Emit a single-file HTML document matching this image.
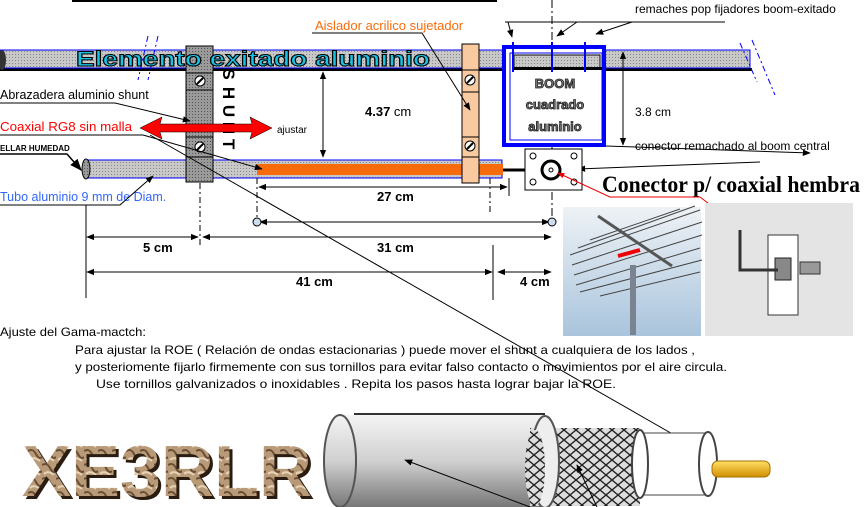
<!DOCTYPE html>
<html><head><meta charset="utf-8"><style>
html,body{margin:0;padding:0;background:#fff;width:865px;height:507px;overflow:hidden}
svg{display:block;font-family:"Liberation Sans",sans-serif}
</style></head><body>
<svg width="865" height="507" viewBox="0 0 865 507" xmlns="http://www.w3.org/2000/svg">
<defs>
<marker id="a" viewBox="0 0 10 10" refX="9" refY="5" markerWidth="8" markerHeight="8" orient="auto-start-reverse"><path d="M0,1 L10,5 L0,9 z" fill="#000"/></marker>
<marker id="r" viewBox="0 0 10 10" refX="9" refY="5" markerWidth="7" markerHeight="7" orient="auto"><path d="M0,1 L10,5 L0,9 z" fill="#e00"/></marker>
<pattern id="dots" width="3" height="3" patternUnits="userSpaceOnUse"><rect width="3" height="3" fill="#c8c8c8"/><rect width="1" height="1" fill="#888"/></pattern>
<pattern id="dots2" width="3" height="3" patternUnits="userSpaceOnUse"><rect width="3" height="3" fill="#9a9a9a"/><rect width="1" height="1" fill="#555"/></pattern>
<pattern id="braid" width="12" height="10" patternUnits="userSpaceOnUse"><rect width="12" height="10" fill="#ddd"/><path d="M0,0 L12,10 M12,0 L0,10" stroke="#222" stroke-width="1.4"/></pattern>
<linearGradient id="jk" x1="0" y1="0" x2="0" y2="1"><stop offset="0" stop-color="#f4f4f4"/><stop offset="0.5" stop-color="#d0d0d0"/><stop offset="1" stop-color="#777"/></linearGradient>
<linearGradient id="sky" x1="0" y1="0" x2="0" y2="1"><stop offset="0" stop-color="#eef2f6"/><stop offset="1" stop-color="#a9c4dc"/></linearGradient>
<linearGradient id="gold" x1="0" y1="0" x2="0" y2="1"><stop offset="0" stop-color="#ffe066"/><stop offset="1" stop-color="#d09000"/></linearGradient>
<pattern id="rock" width="14" height="14" patternUnits="userSpaceOnUse"><rect width="14" height="14" fill="#b89a78"/><path d="M0,3 Q5,0 8,6 T14,9" stroke="#6b4f35" stroke-width="2" fill="none"/><path d="M2,12 Q6,8 12,13" stroke="#e6d2b5" stroke-width="2" fill="none"/></pattern>
</defs>

<line x1="72" y1="1" x2="497" y2="1" stroke="#000" stroke-width="2"/>

<!-- top tube -->
<rect x="0" y="68" width="752" height="3" fill="#000"/>
<rect x="0" y="50" width="750" height="18" fill="url(#dots)" stroke="#00f" stroke-width="1"/>
<ellipse cx="2" cy="60" rx="4" ry="10" fill="#333"/>
<path d="M148,36 L138,80 M158,36 L148,80" stroke="#00f" stroke-dasharray="6,3,2,3" fill="none"/>
<path d="M740,43 L757,82 M752,40 L775,95" stroke="#00f" stroke-dasharray="6,3,2,3" fill="none"/>

<!-- bottom tube -->
<rect x="86" y="160" width="416" height="18" fill="url(#dots)" stroke="#00f"/>
<ellipse cx="86" cy="169" rx="4" ry="10" fill="url(#dots2)" stroke="#000"/>
<rect x="257" y="164" width="246" height="11" fill="#f76b0b"/>
<line x1="503" y1="170" x2="548" y2="170" stroke="#000" stroke-width="3"/>

<!-- shunt block -->
<rect x="186" y="46" width="27" height="136" fill="url(#dots2)" stroke="#000"/>
<path d="M186,73H213M186,90H213M186,137H213M186,157H213" stroke="#000"/>
<circle cx="200" cy="81" r="5" fill="#fff" stroke="#000"/><line x1="197" y1="84" x2="203" y2="78" stroke="#000" stroke-width="2"/>
<circle cx="200" cy="147" r="5" fill="#fff" stroke="#000"/><line x1="197" y1="150" x2="203" y2="144" stroke="#000" stroke-width="2"/>
<text x="76" y="66" font-size="21" font-weight="bold" fill="#19c3e6" stroke="#000" stroke-width="1" textLength="354" lengthAdjust="spacingAndGlyphs">Elemento exitado aluminio</text>
<g font-size="17" font-weight="bold" text-anchor="middle" fill="#000">
<text transform="translate(229,74) rotate(90)" x="0" y="6">S</text>
<text transform="translate(229,93) rotate(90)" x="0" y="6">H</text>
<text transform="translate(229,111) rotate(90)" x="0" y="6">U</text>
<text transform="translate(229,128) rotate(90)" x="0" y="6">N</text>
<text transform="translate(229,144) rotate(90)" x="0" y="6">T</text>
</g>
<!-- red arrow -->
<path d="M140,128 L162,117 L160,124 L252,124 L250,117 L272,128 L250,139 L252,132 L160,132 L162,139 Z" fill="#f00" stroke="#000" stroke-width="0.5"/>
<text x="277" y="133" font-size="10">ajustar</text>

<!-- aislador -->
<rect x="462" y="44" width="17" height="139" fill="#f9c9a0" stroke="#000"/>
<path d="M462,70H479M462,92H479M462,137H479M462,157H479" stroke="#000"/>
<circle cx="470" cy="80" r="5" fill="#fff" stroke="#000"/><line x1="467" y1="83" x2="473" y2="77" stroke="#000" stroke-width="2"/>
<circle cx="470" cy="146" r="5" fill="#fff" stroke="#000"/><line x1="467" y1="149" x2="473" y2="143" stroke="#000" stroke-width="2"/>
<text x="315" y="30" font-size="13" fill="#f76b0b">Aislador acrilico sujetador</text>
<polyline points="312,33 422,33 470,110" fill="none" stroke="#000" marker-end="url(#a)"/>

<!-- 4.37 -->
<line x1="323" y1="72" x2="323" y2="157" stroke="#000" marker-start="url(#a)" marker-end="url(#a)"/>
<text x="365" y="116" font-size="13"><tspan font-weight="bold">4.37</tspan> cm</text>

<!-- center dash-dot -->
<line x1="552" y1="0" x2="552" y2="225" stroke="#000" stroke-dasharray="8,3,2,3"/>

<!-- boom -->
<rect x="504" y="47" width="100" height="98" fill="#fff" stroke="#00f" stroke-width="4"/>
<rect x="510" y="53" width="92" height="87" fill="none" stroke="#00f"/>
<rect x="514" y="55" width="86" height="13" fill="url(#dots)" stroke="#000"/>
<rect x="514" y="67" width="88" height="3" fill="#000"/>
<path d="M513,42V72M552,42V72M585,42V72" stroke="#00f" stroke-width="2"/>
<g font-size="13" font-weight="bold" fill="#777" stroke="#222" stroke-width="0.8" text-anchor="middle">
<text x="555" y="88">BOOM</text><text x="555" y="109">cuadrado</text><text x="555" y="131">aluminio</text></g>
<text x="635" y="13" font-size="12">remaches pop fijadores boom-exitado</text>
<line x1="505" y1="22" x2="725" y2="22" stroke="#000"/>
<line x1="508" y1="22" x2="512" y2="37" stroke="#000" marker-end="url(#a)"/>
<line x1="577" y1="22" x2="557" y2="36" stroke="#000" marker-end="url(#a)"/>
<line x1="632" y1="22" x2="596" y2="34" stroke="#000" marker-end="url(#a)"/>
<line x1="623" y1="52" x2="623" y2="145" stroke="#000" marker-start="url(#a)" marker-end="url(#a)"/>
<text x="635" y="116" font-size="12">3.8 cm</text>
<text x="635" y="150" font-size="12">conector remachado al boom central</text>
<line x1="606" y1="146" x2="810" y2="153" stroke="#000" marker-end="url(#a)"/>
<line x1="760" y1="162" x2="578" y2="169" stroke="#000" marker-end="url(#a)"/>

<!-- connector plate -->
<rect x="525" y="149" width="57" height="41" fill="#fff" stroke="#000"/>
<circle cx="533" cy="156" r="3" fill="#fff" stroke="#000"/><circle cx="574" cy="156" r="3" fill="#fff" stroke="#000"/>
<circle cx="533" cy="182" r="3" fill="#fff" stroke="#000"/><circle cx="574" cy="182" r="3" fill="#fff" stroke="#000"/>
<circle cx="551" cy="170" r="9" fill="#fff" stroke="#000" stroke-width="3"/>
<circle cx="551" cy="170" r="2" fill="#fff" stroke="#000"/>
<text x="602" y="192" font-family="Liberation Serif,serif" font-size="23" font-weight="bold" textLength="258" lengthAdjust="spacingAndGlyphs">Conector p/ coaxial  hembra</text>
<polyline points="700,197 610,197 558,173" fill="none" stroke="#e00" marker-end="url(#r)"/>
<line x1="700" y1="197" x2="790" y2="265" stroke="#e00"/>

<!-- photos -->
<rect x="563" y="207" width="138" height="129" fill="url(#sky)"/>
<g stroke="#444" stroke-width="1">
<path d="M570,255L700,210M572,265L702,222M574,275L702,235M576,285L700,248M580,292L702,260M600,296L700,272M590,240L680,209M578,248L695,206"/>
</g>
<line x1="598" y1="216" x2="672" y2="266" stroke="#555" stroke-width="3"/>
<line x1="618" y1="256" x2="640" y2="250" stroke="#e00" stroke-width="4"/>
<rect x="630" y="265" width="6" height="70" fill="#7a8390"/>
<rect x="705" y="203" width="148" height="133" fill="#e4e4e4"/>
<rect x="768" y="235" width="30" height="80" fill="#fff" stroke="#333"/>
<rect x="775" y="258" width="16" height="22" fill="#888" stroke="#222"/>
<path d="M740,230 L740,270 L778,270" fill="none" stroke="#333" stroke-width="3"/>
<rect x="800" y="262" width="20" height="12" fill="#999" stroke="#333"/>

<!-- dimensions -->
<g stroke="#000" fill="none">
<line x1="200" y1="183" x2="200" y2="245" stroke-dasharray="6,3,2,3"/>
<line x1="257" y1="178" x2="257" y2="222" stroke-dasharray="6,3,2,3"/>
<line x1="490" y1="178" x2="490" y2="212" stroke-dasharray="6,3,2,3"/>
<line x1="509" y1="178" x2="509" y2="196"/>
<line x1="86" y1="205" x2="86" y2="298"/>
<line x1="493" y1="245" x2="493" y2="300"/>
<line x1="259" y1="187" x2="507" y2="187" marker-start="url(#a)" marker-end="url(#a)"/>
<line x1="260" y1="222" x2="549" y2="222" marker-start="url(#a)" marker-end="url(#a)"/>
<line x1="87" y1="237" x2="198" y2="237" marker-start="url(#a)" marker-end="url(#a)"/>
<line x1="203" y1="237" x2="551" y2="237" marker-start="url(#a)" marker-end="url(#a)"/>
<line x1="87" y1="272" x2="492" y2="272" marker-start="url(#a)" marker-end="url(#a)"/>
<line x1="498" y1="272" x2="551" y2="272" marker-start="url(#a)" marker-end="url(#a)"/>
</g>
<circle cx="257" cy="222" r="4" fill="#cde" stroke="#000"/><circle cx="552" cy="222" r="4" fill="#cde" stroke="#000"/>
<g font-size="13" font-weight="bold">
<text x="377" y="201">27 cm</text><text x="143" y="252">5 cm</text><text x="377" y="252">31 cm</text>
<text x="296" y="286">41 cm</text><text x="520" y="286">4 cm</text></g>

<!-- left labels -->
<text x="0" y="99" font-size="12.5">Abrazadera aluminio shunt</text>
<polyline points="0,103 115,103 190,121" fill="none" stroke="#000" marker-end="url(#a)"/>
<text x="0" y="131" font-size="13" fill="#f00" textLength="132" lengthAdjust="spacingAndGlyphs">Coaxial  RG8  sin malla</text>
<line x1="0" y1="135" x2="143" y2="135" stroke="#000"/>
<line x1="143" y1="135" x2="262" y2="169" stroke="#000" marker-end="url(#a)"/>
<line x1="150" y1="135" x2="690" y2="444" stroke="#000" marker-end="url(#a)"/>
<text x="0" y="151" font-size="8" font-weight="bold">ELLAR HUMEDAD</text>
<polyline points="0,154 67,154 81,170" fill="none" stroke="#000" stroke-width="1.5" marker-end="url(#a)"/>
<text x="0" y="201" font-size="12.5" fill="#3366ff">Tubo aluminio 9 mm de Diam.</text>
<polyline points="0,205 120,205 153,176" fill="none" stroke="#000" marker-end="url(#a)"/>

<!-- paragraph -->
<g font-size="12">
<text x="0" y="336" textLength="146" lengthAdjust="spacingAndGlyphs">Ajuste del  Gama-mactch:</text>
<text x="75" y="354" textLength="620" lengthAdjust="spacingAndGlyphs">Para ajustar la ROE  ( Relación de ondas estacionarias )  puede mover el shunt  a cualquiera de los lados ,</text>
<text x="75" y="371" textLength="652" lengthAdjust="spacingAndGlyphs">y posteriomente fijarlo firmemente con sus tornillos  para evitar  falso contacto o movimientos  por el aire  circula.</text>
<text x="96" y="388" textLength="520" lengthAdjust="spacingAndGlyphs">Use  tornillos galvanizados o inoxidables .  Repita  los pasos  hasta lograr bajar   la  ROE.</text>
</g>

<!-- XE3RLR -->
<text x="25" y="499" font-size="72" font-weight="bold" fill="#2a1c10" textLength="290" lengthAdjust="spacingAndGlyphs">XE3RLR</text>
<text x="22" y="496" font-size="72" font-weight="bold" fill="url(#rock)" textLength="290" lengthAdjust="spacingAndGlyphs">XE3RLR</text>

<!-- coax -->
<rect x="340" y="415" width="205" height="92" fill="url(#jk)"/>
<ellipse cx="340" cy="461" rx="16" ry="46" fill="url(#jk)" stroke="#555" stroke-width="2"/>
<line x1="354" y1="414" x2="545" y2="414" stroke="#333" stroke-width="2"/>
<rect x="530" y="428" width="110" height="78" fill="url(#braid)"/>
<ellipse cx="545" cy="462" rx="14" ry="46" fill="#eee" stroke="#555" stroke-width="2"/>
<ellipse cx="535" cy="468" rx="10" ry="38" fill="url(#braid)"/>
<rect x="640" y="433" width="68" height="62" fill="#fff" stroke="#444"/>
<ellipse cx="640" cy="464" rx="8" ry="34" fill="#fff" stroke="#444" stroke-width="2"/>
<ellipse cx="708" cy="464" rx="9" ry="32" fill="#fff" stroke="#444" stroke-width="2"/>
<rect x="712" y="461" width="58" height="16" rx="6" fill="url(#gold)" stroke="#a07000"/>
<line x1="530" y1="507" x2="405" y2="460" stroke="#000" marker-end="url(#a)"/>
<line x1="597" y1="507" x2="577" y2="465" stroke="#000" marker-end="url(#a)"/>
</svg>
</body></html>
